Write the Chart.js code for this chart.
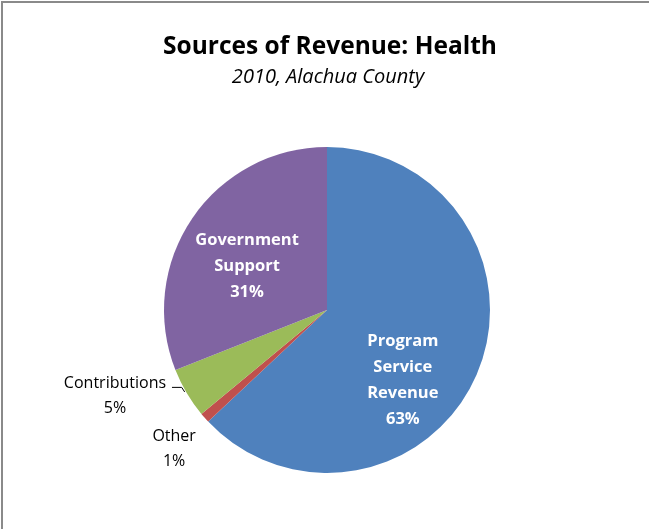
<!DOCTYPE html>
<html>
<head>
<meta charset="utf-8">
<script src="https://cdn.jsdelivr.net/npm/chart.js@4.4.1/dist/chart.umd.min.js"></script>
<style>
    html, body { margin: 0; padding: 0; background: #fff; }
    #frame {
        position: absolute;
        left: 1px; top: 1px;
        width: 700px; height: 526px;
        border-left: 2px solid #8a8a8a;
        border-top: 2px solid #8a8a8a;
        border-bottom: 1px solid #c8c8c8;
    }
    #wrap { position: absolute; left: 0; top: 0; width: 649px; height: 529px; }
</style>
</head>
<body>
<div id="frame"></div>
<div id="wrap"><canvas id="chart" width="649" height="529"></canvas></div>
<script>

var categories = ["Program Service Revenue", "Other", "Contributions", "Government Support"];
var shares = [63, 1, 5, 31];
var colors = ["#4F81BD", "#C0504D", "#9BBB59", "#8064A2"];

// label text lines per slice (percent added below)
var labelLines = [["Program", "Service", "Revenue"], ["Other"], ["Contributions"], ["Government", "Support"]];
// [distance as fraction of radius, angle shift in degrees, inside?]
var labelPlace = [[0.63, 19, true], [1.26, -0.5, false], [1.40, 8.9, false], [0.563, -4.8, true]];

var FONT = "'Open Sans', sans-serif";

var sliceLabels = {
    id: "sliceLabels",
    afterDatasetsDraw: function (chart) {
        var ctx = chart.ctx;
        var arcs = chart.getDatasetMeta(0).data;
        ctx.save();

        // title and subtitle
        ctx.textAlign = "center";
        ctx.textBaseline = "middle";
        ctx.fillStyle = "#000";
        ctx.font = "bold 24.5px " + FONT;
        ctx.fillText("Sources of Revenue: Health", 330, 47);
        ctx.font = "italic 20px " + FONT;
        ctx.fillText("2010, Alachua County", 328, 77);

        for (var i = 0; i < arcs.length; i++) {
            var arc = arcs[i];
            var mid = (arc.startAngle + arc.endAngle) / 2;
            var place = labelPlace[i];
            var a = mid + place[1] * Math.PI / 180;
            var r = arc.outerRadius * place[0];
            var cx = arc.x + Math.cos(a) * r;
            var cy = arc.y + Math.sin(a) * r + 1.5;
            var lines = labelLines[i].concat([shares[i] + "%"]);
            var lh = place[2] ? 26 : 25;

            ctx.fillStyle = place[2] ? "#fff" : "#000";
            ctx.font = (place[2] ? "bold 16.5px " : "16px ") + FONT;
            var y0 = cy - (lines.length - 1) * lh / 2;
            for (var j = 0; j < lines.length; j++) {
                ctx.fillText(lines[j], cx, y0 + j * lh);
            }

            // leader line for the contributions label
            if (categories[i] == "Contributions") {
                var ex = arc.x + Math.cos(mid) * arc.outerRadius;
                var ey = arc.y + Math.sin(mid) * arc.outerRadius;
                ctx.strokeStyle = "#000";
                ctx.lineWidth = 1;
                ctx.beginPath();
                ctx.moveTo(cx + 57, y0 + 4);
                ctx.lineTo(ex - 5, y0 + 4);
                ctx.lineTo(ex - 2, ey - 1);
                ctx.stroke();
            }
        }
        ctx.restore();
    }
};

new Chart(
    document.getElementById("chart"),
    {
        type: "pie",
        data: {
            labels: categories,
            datasets: [
                {
                    data: shares,
                    backgroundColor: colors,
                    borderWidth: 0
                }
            ]
        },
        options: {
            responsive: false,
            animation: false,
            layout: {
                padding: { top: 147, bottom: 56, left: 164, right: 159 }
            },
            plugins: {
                legend: { display: false },
                tooltip: { enabled: false }
            }
        },
        plugins: [sliceLabels]
    }
);
</script>
</body>
</html>
